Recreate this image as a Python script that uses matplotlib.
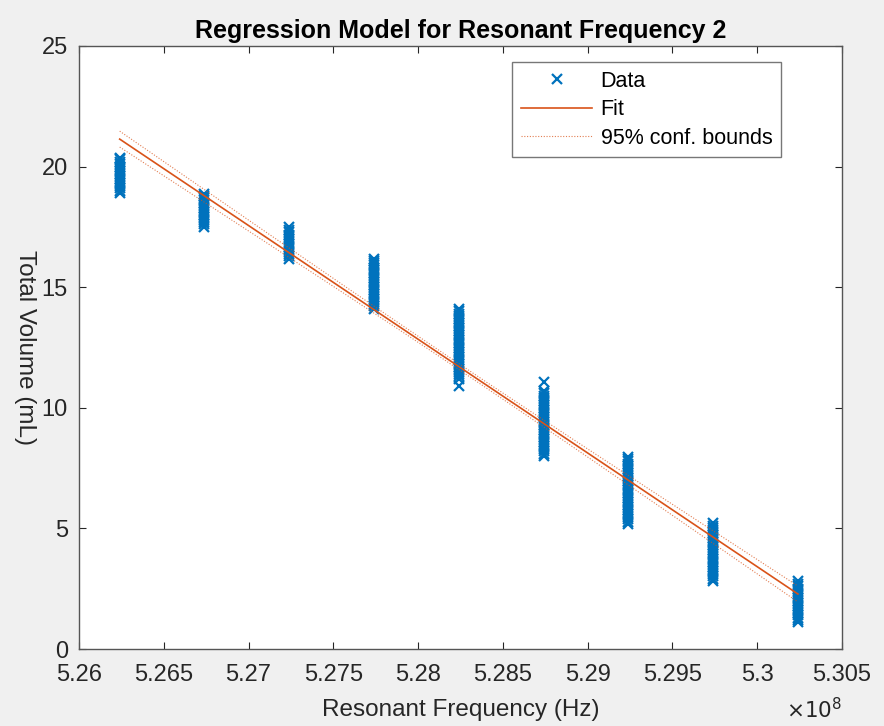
import numpy as np
import matplotlib
matplotlib.use("Agg")
import matplotlib.pyplot as plt
from matplotlib.ticker import FuncFormatter

# Column frequencies (Hz)
freqs = [5.2624e8, 5.2674e8, 5.2724e8, 5.2774e8, 5.2824e8,
         5.2874e8, 5.2924e8, 5.2974e8, 5.3024e8]

# Total volume readings per column (mL)
vol_c1 = [18.90, 19.00, 19.10, 19.20, 19.30, 19.40, 19.50, 19.60, 19.70, 19.80,
          19.90, 20.00, 20.10, 20.20, 20.30, 20.35]
vol_c2 = [17.50, 17.60, 17.70, 17.80, 17.90, 18.00, 18.10, 18.20, 18.30, 18.40,
          18.50, 18.60, 18.70, 18.80, 18.85]
vol_c3 = [16.18, 16.28, 16.38, 16.48, 16.58, 16.68, 16.78, 16.88, 16.98, 17.08,
          17.18, 17.28, 17.38, 17.48]
vol_c4 = [14.10, 14.20, 14.30, 14.40, 14.50, 14.60, 14.70, 14.80, 14.90, 15.00,
          15.10, 15.20, 15.30, 15.40, 15.50, 15.60, 15.70, 15.80, 15.90, 16.00,
          16.10, 16.17]
vol_c5 = [10.90, 11.20, 11.30, 11.40, 11.50, 11.60, 11.70, 11.80, 11.90, 12.00,
          12.10, 12.20, 12.30, 12.40, 12.50, 12.60, 12.70, 12.80, 12.90, 13.00,
          13.10, 13.20, 13.30, 13.40, 13.50, 13.60, 13.70, 13.80, 13.90, 14.00,
          14.10]
vol_c6 = [8.00, 8.10, 8.20, 8.30, 8.40, 8.50, 8.60, 8.70, 8.80, 8.90, 9.00,
          9.10, 9.20, 9.30, 9.40, 9.50, 9.60, 9.70, 9.80, 9.90, 10.00, 10.10,
          10.20, 10.30, 10.40, 10.50, 10.60, 10.70, 11.05]
vol_c7 = [5.18, 5.28, 5.38, 5.48, 5.58, 5.68, 5.78, 5.88, 5.98, 6.08, 6.18,
          6.28, 6.38, 6.48, 6.58, 6.68, 6.78, 6.88, 6.98, 7.08, 7.18, 7.28,
          7.38, 7.48, 7.58, 7.68, 7.78, 7.88, 7.96]
vol_c8 = [2.82, 2.92, 3.02, 3.12, 3.22, 3.32, 3.42, 3.52, 3.62, 3.72, 3.82,
          3.92, 4.02, 4.12, 4.22, 4.32, 4.42, 4.52, 4.62, 4.72, 4.82, 4.92,
          5.02, 5.12, 5.22]
vol_c9 = [1.10, 1.20, 1.30, 1.40, 1.50, 1.60, 1.70, 1.80, 1.90, 2.00, 2.10,
          2.20, 2.30, 2.40, 2.50, 2.60, 2.70, 2.80]
volumes = [vol_c1, vol_c2, vol_c3, vol_c4, vol_c5, vol_c6, vol_c7, vol_c8, vol_c9]

# Fitted line values at first and last column, and 95% bound half-widths
fit_ends = [21.14, 2.28]
bound_half_end = 0.33
bound_half_mid = 0.12

x_ticks = [5.26, 5.265, 5.27, 5.275, 5.28, 5.285, 5.29, 5.295, 5.30, 5.305]
y_ticks = [0, 5, 10, 15, 20, 25]

DATA_C = "#0072BD"
FIT_C = "#D95319"
TXT_C = "#262626"

plt.rcParams['font.family'] = ['Liberation Sans', 'DejaVu Sans']

fig = plt.figure(figsize=(8.84, 7.26), dpi=100, facecolor="#f0f0f0")
ax = fig.add_axes([79/884, 1 - 649/726, (842-79)/884, (649-46)/726])
ax.set_facecolor("white")

scale = 1e8
xs, ys = [], []
for f, vals in zip(freqs, volumes):
    xs += [f / scale] * len(vals)
    ys += vals
ax.plot(xs, ys, linestyle="none", marker="x", markersize=7.5, mew=1.6,
        color=DATA_C, label="Data", zorder=3)

x0, x1 = freqs[0] / scale, freqs[-1] / scale
xl = np.linspace(x0, x1, 200)
yl = fit_ends[0] + (fit_ends[1] - fit_ends[0]) * (xl - x0) / (x1 - x0)
xm = 0.5 * (x0 + x1)
frac = (xl - xm) / (x1 - xm)
hw = np.sqrt(bound_half_mid**2 + (bound_half_end**2 - bound_half_mid**2) * frac**2)
ax.plot(xl, yl, color=FIT_C, lw=1.2, label="Fit", zorder=4)
ax.plot(xl, yl + hw, color=FIT_C, lw=0.8, ls=(0, (1, 1.5)), alpha=0.75,
        label="95% conf. bounds", zorder=4)
ax.plot(xl, yl - hw, color=FIT_C, lw=0.8, ls=(0, (1, 1.5)), alpha=0.75, zorder=4)

ax.set_xlim(5.26, 5.305)
ax.set_ylim(0, 25)
ax.set_xticks(x_ticks)
ax.set_yticks(y_ticks)
ax.xaxis.set_major_formatter(FuncFormatter(lambda v, p: f"{v:g}"))
ax.tick_params(direction="in", top=True, right=True, length=5, width=0.8,
               colors=TXT_C, labelsize=17, labelcolor=TXT_C)
ax.tick_params(axis="x", pad=11)
ax.tick_params(axis="y", pad=8)
for s in ax.spines.values():
    s.set_color("#555555")
    s.set_linewidth(1.0)

ax.set_title("Regression Model for Resonant Frequency 2", fontsize=18,
             fontweight="bold", color="black", pad=6)
ax.set_xlabel("Resonant Frequency (Hz)", fontsize=17.5, color=TXT_C, labelpad=9)
ax.set_ylabel("Total Volume (mL)", fontsize=17.5, color=TXT_C, rotation=270,
              va="center", ha="center")
ax.yaxis.set_label_coords(-0.071, 0.5)
ax.text(1.0, -(711 - 649) / (649 - 46), r"$\times10^{8}$", transform=ax.transAxes,
        ha="right", va="center", fontsize=15.5, color=TXT_C)

leg = ax.legend(loc="upper right", bbox_to_anchor=(781/884, 1 - 62/726),
                bbox_transform=fig.transFigure, fontsize=15.5, frameon=True,
                fancybox=False, edgecolor="#555555", handlelength=3.3,
                handletextpad=0.4, borderpad=0.4, labelspacing=0.35,
                borderaxespad=0)
leg.get_frame().set_linewidth(1.0)

fig.savefig("out.png", dpi=100, facecolor=fig.get_facecolor())
